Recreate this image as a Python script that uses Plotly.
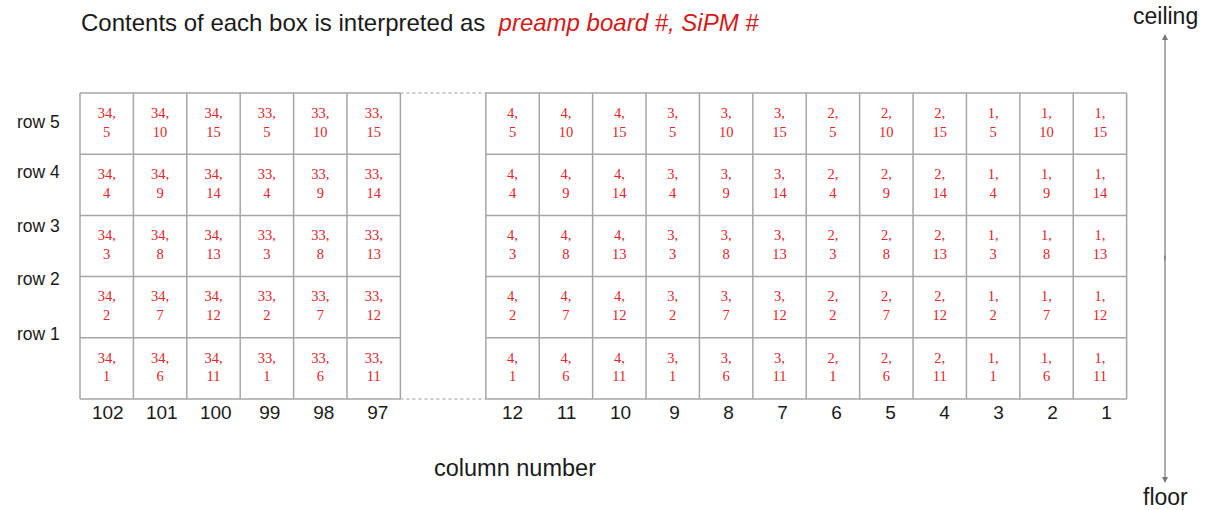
import plotly.graph_objects as go

# ---------------- data ----------------
left_columns = [102, 101, 100, 99, 98, 97]
right_columns = [12, 11, 10, 9, 8, 7, 6, 5, 4, 3, 2, 1]
left_boards = [34, 34, 34, 33, 33, 33]
right_boards = [4, 4, 4, 3, 3, 3, 2, 2, 2, 1, 1, 1]
row_labels = ["row 1", "row 2", "row 3", "row 4", "row 5"]
# SiPM number per row (row 1 .. row 5), for the 18 drawn columns (left block then right block)
sipm_rows = [
    [1, 6, 11, 1, 6, 11, 1, 6, 11, 1, 6, 11, 1, 6, 11, 1, 6, 11],
    [2, 7, 12, 2, 7, 12, 2, 7, 12, 2, 7, 12, 2, 7, 12, 2, 7, 12],
    [3, 8, 13, 3, 8, 13, 3, 8, 13, 3, 8, 13, 3, 8, 13, 3, 8, 13],
    [4, 9, 14, 4, 9, 14, 4, 9, 14, 4, 9, 14, 4, 9, 14, 4, 9, 14],
    [5, 10, 15, 5, 10, 15, 5, 10, 15, 5, 10, 15, 5, 10, 15, 5, 10, 15],
]

# ---------------- layout geometry ----------------
W, H = 1209, 510
X0_PX, COL_PX = 80.0, 53.4      # left edge of grid, column width
Y0_PX, ROW_PX = 399.0, 61.2     # bottom edge of grid, row height
GAP = 1.6                       # gap between blocks in column units
right_start = len(left_columns) + GAP
LABEL_STEP = 54.0 / COL_PX      # column-number labels are spaced slightly wider than boxes

def px2x(px):
    return (px - X0_PX) / COL_PX

def py2y(py):
    return (Y0_PX - py) / ROW_PX

GRID_COLOR = "#a6a6a6"
RED = "#e0262b"
TXT = "#1a1a1a"
SANS = "Liberation Sans"

fig = go.Figure()
shapes = []
nrows = len(row_labels)

def block(start, n):
    for i in range(n + 1):
        shapes.append(dict(type="line", x0=start + i, x1=start + i, y0=0, y1=nrows,
                           xref="x", yref="y", line=dict(color=GRID_COLOR, width=1.5)))
    for j in range(nrows + 1):
        shapes.append(dict(type="line", x0=start, x1=start + n, y0=j, y1=j,
                           xref="x", yref="y", line=dict(color=GRID_COLOR, width=1.5)))

block(0, len(left_columns))
block(right_start, len(right_columns))
for yv in (0, nrows):
    shapes.append(dict(type="line", x0=len(left_columns), x1=right_start, y0=yv, y1=yv,
                       xref="x", yref="y", line=dict(color="#9a9a9a", width=1, dash="dot")))

# cell texts
col_x = [i + 0.5 for i in range(len(left_columns))] + \
        [right_start + i + 0.5 for i in range(len(right_columns))]
boards = left_boards + right_boards
xs, ys, ts = [], [], []
for r in range(nrows):
    for c, xc in enumerate(col_x):
        xs.append(xc)
        ys.append(r + 0.5)
        ts.append(f"{boards[c]},<br>{sipm_rows[r][c]}")
fig.add_trace(go.Scatter(x=xs, y=ys, text=ts, mode="text",
                         textfont=dict(family="Liberation Serif", size=14.5, color=RED),
                         hoverinfo="skip", showlegend=False))

# column numbers
label_x = [0.52 + i * LABEL_STEP for i in range(len(left_columns))] + \
          [right_start + 0.5 + i * LABEL_STEP for i in range(len(right_columns))]
all_cols = left_columns + right_columns
fig.add_trace(go.Scatter(x=label_x, y=[py2y(414)] * len(label_x), text=[str(c) for c in all_cols],
                         mode="text",
                         textfont=dict(family=SANS, size=19, color=TXT),
                         hoverinfo="skip", showlegend=False))

annotations = []
# row labels (positions as in the reference)
row_label_py = [334, 279, 226, 172, 122]
for lab, py in zip(row_labels, row_label_py):
    annotations.append(dict(x=px2x(38.5), y=py2y(py), text=lab, showarrow=False,
                            xref="x", yref="y",
                            font=dict(family=SANS, size=17.5, color=TXT)))

annotations.append(dict(x=px2x(515), y=py2y(468), text="column number", showarrow=False,
                        xref="x", yref="y",
                        font=dict(family=SANS, size=23.5, color=TXT)))

annotations.append(dict(x=px2x(79), y=py2y(22), xanchor="left", showarrow=False,
                        xref="x", yref="y",
                        text="Contents of each box is interpreted as&nbsp;&nbsp;"
                             "<i><span style='color:#d41a1a'>preamp board #, SiPM #</span></i>",
                        font=dict(family=SANS, size=24, color=TXT)))

annotations.append(dict(x=px2x(1165), y=py2y(16), text="ceiling", showarrow=False,
                        xref="x", yref="y",
                        font=dict(family=SANS, size=23, color=TXT)))
annotations.append(dict(x=px2x(1165), y=py2y(497), text="floor", showarrow=False,
                        xref="x", yref="y",
                        font=dict(family=SANS, size=23, color=TXT)))

# double arrow (two halves overlapping in the middle)
mid = 258
annotations.append(dict(x=px2x(1165), y=py2y(34), ax=0, ay=mid + 4 - 34, text="",
                        xref="x", yref="y", showarrow=True, arrowhead=2, arrowsize=1,
                        arrowwidth=1.2, arrowcolor="#777777"))
annotations.append(dict(x=px2x(1165), y=py2y(483), ax=0, ay=mid - 4 - 483, text="",
                        xref="x", yref="y", showarrow=True, arrowhead=2, arrowsize=1,
                        arrowwidth=1.2, arrowcolor="#777777"))

fig.update_layout(
    width=W, height=H, autosize=False,
    margin=dict(l=0, r=0, t=0, b=0),
    paper_bgcolor="white", plot_bgcolor="white",
    shapes=shapes, annotations=annotations,
    xaxis=dict(range=[px2x(0), px2x(W)], visible=False, fixedrange=True),
    yaxis=dict(range=[py2y(H), py2y(0)], visible=False, fixedrange=True),
    showlegend=False,
)

fig.write_html("out.html", config={"displayModeBar": False},
               post_script="document.body.style.margin='0';document.body.style.overflow='hidden';")
